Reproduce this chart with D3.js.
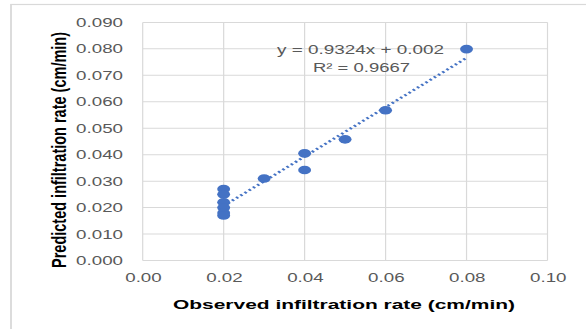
<!DOCTYPE html>
<html>
<head>
<meta charset="utf-8">
<script src="https://cdn.jsdelivr.net/npm/d3@7"></script>
<style>
  html, body { margin: 0; padding: 0; background: #fff; }
  svg { display: block; }
</style>
</head>
<body>
<svg id="chart"></svg>
<script>
// Observed vs predicted infiltration rate (cm/min)
const observed  = [0.02, 0.02, 0.02, 0.02, 0.02, 0.02, 0.03, 0.04, 0.04, 0.05, 0.06, 0.08];
const predicted = [0.027, 0.025, 0.022, 0.020, 0.018, 0.017, 0.031, 0.0405, 0.0342, 0.0458, 0.0568, 0.0799];
const xTicks = [0, 0.02, 0.04, 0.06, 0.08, 0.10];
const yTicks = [0, 0.01, 0.02, 0.03, 0.04, 0.05, 0.06, 0.07, 0.08, 0.09];
const trendSlope = 0.9324;
const trendIntercept = 0.002;
const trendRange = [0.02, 0.08];

// the picture is stretched sideways, so draw in a narrower space and stretch it
const S = 1.5;
const W = 586, H = 329;
const LW = W / S;

const svg = d3.select('#chart')
  .attr('width', W).attr('height', H)
  .attr('viewBox', `0 0 ${LW} ${H}`)
  .attr('preserveAspectRatio', 'none');

const font = '"Liberation Sans", Arial, sans-serif';
const grey = '#595959';
const gridColor = '#d9d9d9';

// outer chart frame
svg.append('rect')
  .attr('x', 11 / S).attr('y', 4.5)
  .attr('width', LW).attr('height', H)
  .attr('fill', '#fff').attr('stroke', gridColor).attr('stroke-width', 1.2);

const x = d3.scaleLinear().domain([0, 0.10]).range([142.7 / S, 547.5 / S]);
const y = d3.scaleLinear().domain([0, 0.09]).range([260.5, 22.4]);

// grid
const grid = svg.append('g');
grid.selectAll('line.h').data(yTicks).join('line')
  .attr('x1', x(0)).attr('x2', x(0.10))
  .attr('y1', d => y(d)).attr('y2', d => y(d))
  .attr('stroke', gridColor).attr('stroke-width', 1);
grid.selectAll('line.v').data(xTicks).join('line')
  .attr('y1', y(0)).attr('y2', y(0.09))
  .attr('x1', d => x(d)).attr('x2', d => x(d))
  .attr('stroke', gridColor).attr('stroke-width', 1 / S * 1.2);

// axes (labels only, Excel style)
const yAxis = svg.append('g')
  .attr('transform', `translate(${x(0)},0)`)
  .call(d3.axisLeft(y).tickValues(yTicks).tickFormat(d3.format('.3f')).tickSize(0).tickPadding(123 / S > 0 ? (142.7 - 123) / S : 0));
const xAxis = svg.append('g')
  .attr('transform', `translate(0,${y(0)})`)
  .call(d3.axisBottom(x).tickValues(xTicks).tickFormat(d3.format('.2f')).tickSize(0).tickPadding(13));
[xAxis, yAxis].forEach(a => {
  a.select('.domain').remove();
  a.selectAll('text').attr('fill', grey).attr('font-family', font).attr('font-size', 12.5);
});

// trendline
svg.append('line')
  .attr('x1', x(trendRange[0])).attr('y1', y(trendSlope * trendRange[0] + trendIntercept))
  .attr('x2', x(trendRange[1])).attr('y2', y(trendSlope * trendRange[1] + trendIntercept))
  .attr('stroke', '#4472C4').attr('stroke-width', 2.3)
  .attr('stroke-dasharray', '1.6,2.2');

// points
svg.append('g').selectAll('circle')
  .data(observed.map((o, i) => [o, predicted[i]]))
  .join('circle')
  .attr('cx', d => x(d[0])).attr('cy', d => y(d[1]))
  .attr('r', 4.3)
  .attr('fill', '#4472C4');

// equation
svg.append('text')
  .attr('x', 360.5 / S).attr('y', 54.5)
  .attr('text-anchor', 'middle')
  .attr('font-family', font).attr('font-size', 13).attr('fill', grey)
  .attr('textLength', 167 / S).attr('lengthAdjust', 'spacingAndGlyphs')
  .text(`y = ${trendSlope}x + ${trendIntercept}`);
svg.append('text')
  .attr('x', 361.5 / S).attr('y', 72.5)
  .attr('text-anchor', 'middle')
  .attr('font-family', font).attr('font-size', 13).attr('fill', grey)
  .attr('textLength', 97 / S).attr('lengthAdjust', 'spacingAndGlyphs')
  .text('R² = 0.9667');

// axis titles
svg.append('text')
  .attr('x', 344 / S).attr('y', 309)
  .attr('text-anchor', 'middle')
  .attr('font-family', font).attr('font-weight', 'bold').attr('font-size', 13.5).attr('fill', '#000')
  .attr('textLength', 342 / S).attr('lengthAdjust', 'spacingAndGlyphs')
  .text('Observed infiltration rate (cm/min)');
svg.append('text')
  .attr('transform', `translate(${66 / S},${150}) rotate(-90)`)
  .attr('text-anchor', 'middle')
  .attr('font-family', font).attr('font-weight', 'bold').attr('font-size', 13.5).attr('fill', '#000')
  .attr('textLength', 236).attr('lengthAdjust', 'spacingAndGlyphs')
  .text('Predicted infiltration rate (cm/min)');
</script>
</body>
</html>
